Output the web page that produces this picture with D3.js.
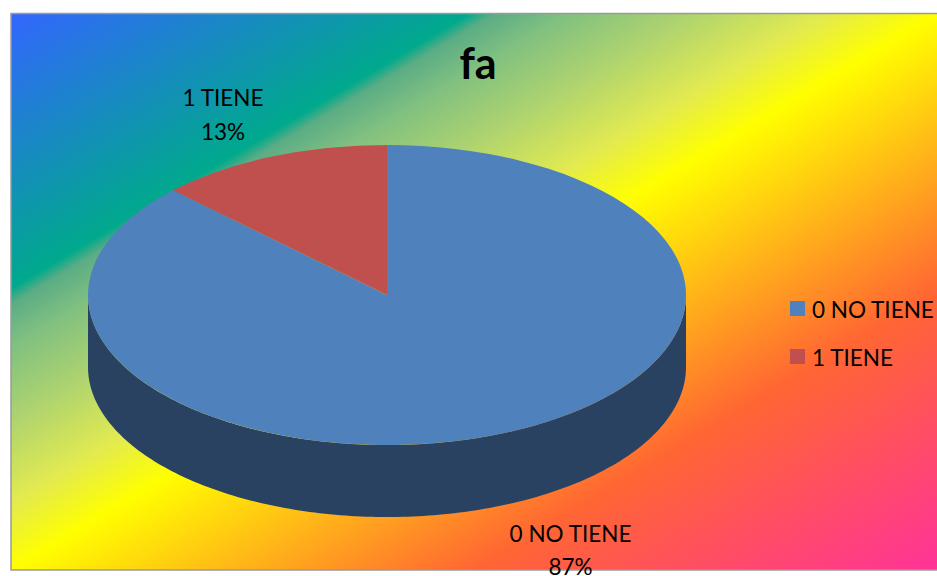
<!DOCTYPE html>
<html><head><meta charset="utf-8">
<script src="https://cdn.jsdelivr.net/npm/d3@7"></script>
<style>html,body{margin:0;padding:0;background:#fff;overflow:hidden}svg{display:block}text{font-family:Lato,"Open Sans",sans-serif;fill:#000}</style>
</head><body><svg id="c" width="937" height="576"></svg>
<script>
const categories = ["0 NO TIENE", "1 TIENE"];
const values = [87.3, 12.7];
const percentLabels = ["87%", "13%"];
const sliceColors = ["#4f81bd", "#c0504d"];
const sideColor = "#2a4262";
const gradientStops = [[0, "#3366ff"], [0.248, "#00a98c"], [0.262, "#5bac85"], [0.3, "#80c080"], [0.37, "#b0d46e"], [0.44, "#e2ea50"], [0.5, "#ffff00"], [0.75, "#ff6633"], [1, "#ff3399"]];
const title = "fa";

const svg = d3.select("#c");
const frame = {x: 11, y: 13.5, w: 940, h: 556.5};
const defs = svg.append("defs");
const grad = defs.append("linearGradient").attr("id", "bg").attr("gradientUnits", "userSpaceOnUse")
  .attr("x1", 10).attr("y1", 13);
// gradient axis perpendicular to the colour bands (slope about -0.6)
const len = 1113 / (1 + 0.36);
grad.attr("x2", 10 + 0.6 * len).attr("y2", 13 + len);
grad.selectAll("stop").data(gradientStops).join("stop")
  .attr("offset", d => d[0]).attr("stop-color", d => d[1]);
svg.append("rect").attr("x", frame.x).attr("y", frame.y).attr("width", frame.w).attr("height", frame.h)
  .attr("fill", "url(#bg)").attr("stroke", "#9a9a9a").attr("stroke-width", 1.5);

svg.append("text").attr("x", 478).attr("y", 79).attr("text-anchor", "middle")
  .attr("font-size", 43).attr("font-weight", 700).text(title);

const cx = 387, cy = 295, rx = 299, ry = 150, depth = 72;
const pie = d3.pie().sort(null);
const arcs = pie(values);
const xAt = d3.scaleLinear().domain([0, 1]).range([cx, cx + rx]);
const yAt = d3.scaleLinear().domain([0, 1]).range([cy, cy - ry]);

// side wall: the front half of the ellipse, extruded downward
const front = d3.range(0, 181).map(a => (90 + a) * Math.PI / 180);
const side = d3.area()
  .x(a => xAt(Math.sin(a)))
  .y0(a => yAt(Math.cos(a)))
  .y1(a => yAt(Math.cos(a)) + depth);
svg.append("path").attr("d", side(front)).attr("fill", sideColor);

const arc = d3.arc().innerRadius(0).outerRadius(1);
svg.append("g").attr("transform", `translate(${cx},${cy}) scale(${rx},${ry})`)
  .selectAll("path").data(arcs).join("path")
  .attr("d", arc).attr("fill", (d, i) => sliceColors[i]);

// data labels
const labelPos = [[570.5, 542, 575], [223, 106, 140]];
categories.forEach((c, i) => {
  svg.append("text").attr("x", labelPos[i][0]).attr("y", labelPos[i][1]).attr("text-anchor", "middle").attr("font-size", 22.5).text(c);
  svg.append("text").attr("x", labelPos[i][0]).attr("y", labelPos[i][2]).attr("text-anchor", "middle").attr("font-size", 22.5).text(percentLabels[i]);
});

// legend
const ly = d3.scalePoint().domain(categories).range([309, 357]);
const legend = svg.append("g").selectAll("g").data(categories).join("g")
  .attr("transform", d => `translate(790,${ly(d)})`);
legend.append("rect").attr("x", 0).attr("y", -8).attr("width", 15).attr("height", 15)
  .attr("fill", (d, i) => sliceColors[i]);
legend.append("text").attr("x", 22).attr("y", 9).attr("font-size", 22.5).text(d => d);
</script></body></html>
